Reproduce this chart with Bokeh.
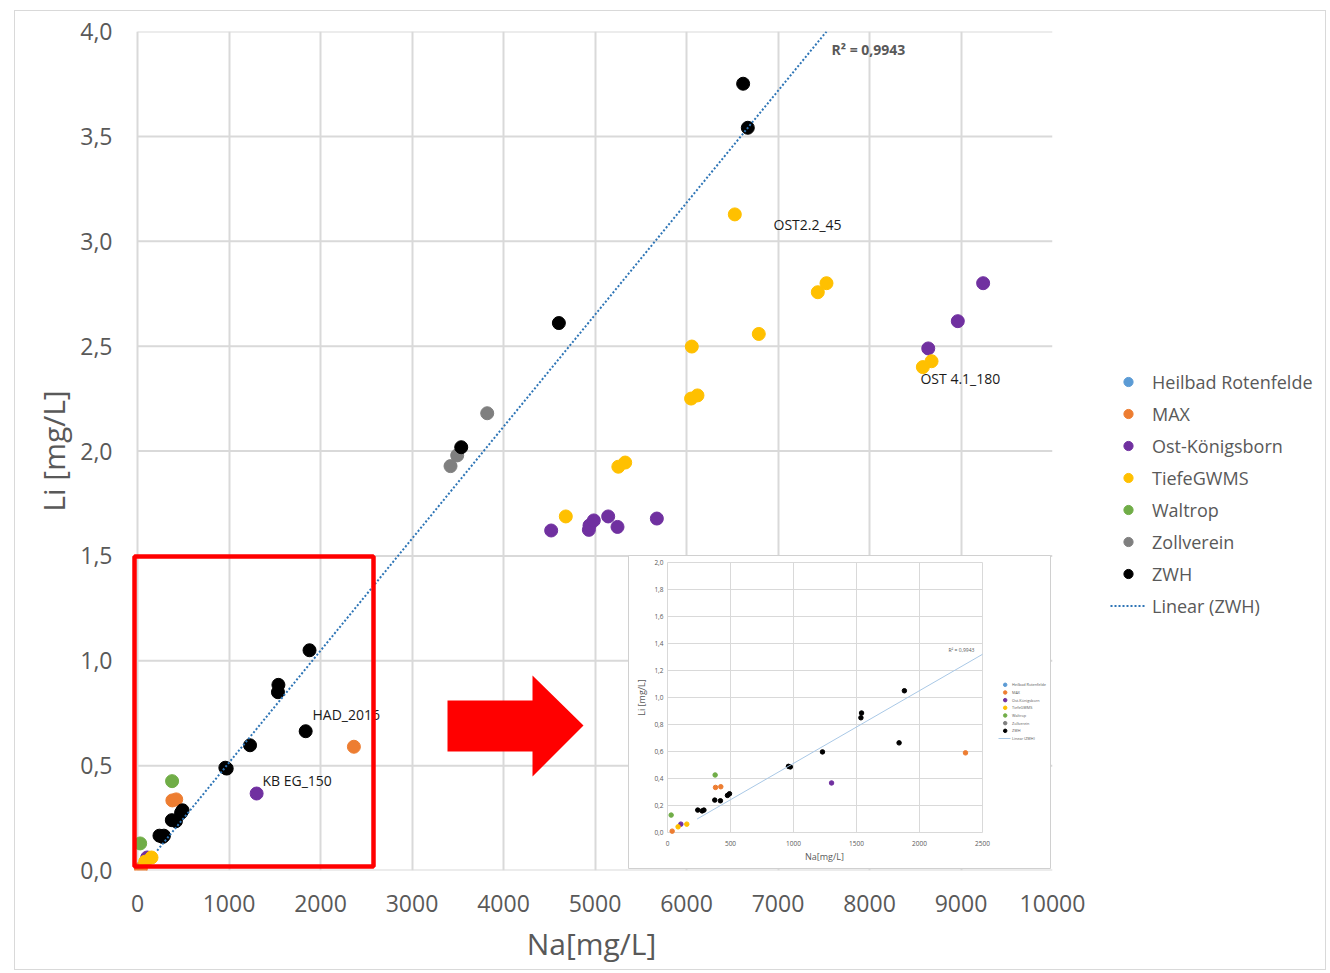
import numpy as np
from bokeh.plotting import figure
from bokeh.layouts import row
from bokeh.models import (Range1d, FixedTicker, CustomJSTickFormatter, Legend, LegendItem,
                          BoxAnnotation, PolyAnnotation, InlineStyleSheet)
from bokeh.core.properties import value
from bokeh.embed import file_html
from bokeh.resources import INLINE

FONT = "Open Sans"
GRAY = "#595959"
GRID = "#d9d9d9"

# ---------------- data ----------------
series_names = ["Heilbad Rotenfelde", "MAX", "Ost-Königsborn", "TiefeGWMS",
                "Waltrop", "Zollverein", "ZWH"]
series_colors = ["#5b9bd5", "#ed7d31", "#7030a0", "#ffc000", "#70ad47", "#7f7f7f", "#000000"]

heilbad_na = []
heilbad_li = []
max_na = [37, 381, 423, 2365]
max_li = [0.01, 0.334, 0.339, 0.59]
ost_na = [106, 1302, 4521, 4933, 4940, 4987, 5144, 5246, 5676, 8642, 8965, 9242]
ost_li = [0.062, 0.367, 1.621, 1.624, 1.645, 1.669, 1.688, 1.638, 1.678, 2.489, 2.619, 2.80]
tiefe_na = [84, 153, 4681, 5255, 5330, 6058, 6050, 6120, 6528, 6790, 7435, 7530, 8583, 8678]
tiefe_li = [0.042, 0.062, 1.688, 1.925, 1.945, 2.498, 2.25, 2.265, 3.128, 2.558, 2.757, 2.80, 2.40, 2.428]
waltrop_na = [29, 378]
waltrop_li = [0.129, 0.426]
zoll_na = [3421, 3494, 3822]
zoll_li = [1.928, 1.979, 2.18]
zwh_na = [240, 275, 289, 375, 420, 476, 492, 960, 975, 1230, 1535, 1540, 1838, 1880,
          3538, 4605, 6619, 6670]
zwh_li = [0.166, 0.16, 0.166, 0.24, 0.235, 0.275, 0.287, 0.49, 0.486, 0.597, 0.85, 0.885,
          0.664, 1.05, 2.018, 2.61, 3.751, 3.541]

series_na = [heilbad_na, max_na, ost_na, tiefe_na, waltrop_na, zoll_na, zwh_na]
series_li = [heilbad_li, max_li, ost_li, tiefe_li, waltrop_li, zoll_li, zwh_li]

trend_name = "Linear (ZWH)"
trend_na = [215, 7530]
trend_li = [0.095, 4.0]
r2_text = "R² = 0,9943"

x_ticks = [0, 1000, 2000, 3000, 4000, 5000, 6000, 7000, 8000, 9000, 10000]
y_ticks = [0.0, 0.5, 1.0, 1.5, 2.0, 2.5, 3.0, 3.5, 4.0]

ann_labels = ["OST2.2_45", "OST 4.1_180", "HAD_2016", "KB EG_150"]
ann_na = [6951, 8557, 1913, 1366]
ann_li = [3.080, 2.346, 0.744, 0.429]

# inset (zoomed copy of the low range)
inset_x_ticks = [0, 500, 1000, 1500, 2000, 2500]
inset_y_ticks = [0.0, 0.2, 0.4, 0.6, 0.8, 1.0, 1.2, 1.4, 1.6, 1.8, 2.0]
inset_trend_na = [235, 2500]
inset_trend_li = [0.10, 1.32]
inset_xmax, inset_ymax = 2500, 2.0

# ---------------- main figure ----------------
W, H = 1330, 973
MAIN_W = 1100
PX_PER_NA = 915.0 / 10000
FRAME_LEFT = 130                       # a few px left of Na=0 (at 137 px)
x_start = -(137 - FRAME_LEFT) / PX_PER_NA

p = figure(width=MAIN_W, height=H, x_range=Range1d(x_start, 10000), y_range=Range1d(0, 4),
           output_backend="svg", toolbar_location=None,
           min_border_left=FRAME_LEFT, min_border_right=MAIN_W - 1052, min_border_top=31,
           min_border_bottom=H - 870)
p.outline_line_color = None
p.background_fill_color = "white"
p.border_fill_color = "white"

p.xaxis.ticker = FixedTicker(ticks=x_ticks)
p.yaxis.ticker = FixedTicker(ticks=y_ticks)
p.xaxis.formatter = CustomJSTickFormatter(code="return tick.toFixed(0)")
p.yaxis.formatter = CustomJSTickFormatter(code="return tick.toFixed(1).replace('.', ',')")
for ax in (p.xaxis[0], p.yaxis[0]):
    ax.axis_line_color = None
    ax.major_tick_line_color = None
    ax.minor_tick_line_color = None
    ax.major_label_text_font = FONT
    ax.major_label_text_font_size = "23px"
    ax.major_label_text_color = GRAY
    ax.axis_label_text_font = FONT
    ax.axis_label_text_font_size = "30px"
    ax.axis_label_text_font_style = "normal"
    ax.axis_label_text_color = GRAY
p.xaxis.axis_label = "Na[mg/L]"
p.yaxis.axis_label = "Li [mg/L]"
p.xaxis.major_label_standoff = 18
p.yaxis.major_label_standoff = 12
p.xaxis.axis_label_standoff = 8
p.yaxis.axis_label_standoff = 3

p.xgrid.ticker = FixedTicker(ticks=x_ticks)
p.xgrid.grid_line_color = GRID
p.xgrid.grid_line_width = 2
p.ygrid.visible = False
# horizontal gridlines spanning Na 0..10000
p.segment(x0=[x_ticks[0]] * len(y_ticks), y0=y_ticks, x1=[x_ticks[-1]] * len(y_ticks),
          y1=y_ticks, line_color=GRID, line_width=2)

# main scatter series
for na, li, c in zip(series_na, series_li, series_colors):
    p.scatter(na, li, size=13, fill_color=c, line_color=c)

p.line(trend_na, trend_li, line_color="#2e75b6", line_width=2, line_dash="2 2")

p.text(x=[7585], y=[3.914], text=[r2_text], text_font=value(FONT), text_font_style="bold",
       text_font_size=value("14px"), text_color=GRAY, text_baseline="middle")

p.text(x=ann_na, y=ann_li, text=ann_labels, text_font=value(FONT),
       text_font_size=value("14px"), text_color="#1a1a1a", text_baseline="middle")

# ---------------- inset ----------------
FL, FR, FT, FB = float(FRAME_LEFT), 1052.0, 31.0, 870.0
IX0, IXS = 667.0, 315.0 / 2500   # px of Na=0, px per unit
IY0, IYS = 832.0, 270.0 / 2.0    # px of Li=0, px per unit
p.extra_x_ranges = {"ix": Range1d(-(IX0 - FL) / IXS, (FR - IX0) / IXS)}
p.extra_y_ranges = {"iy": Range1d(-(FB - IY0) / IYS, (IY0 - FT) / IYS)}


def ix(px):
    return (px - IX0) / IXS


def iy(py):
    return (IY0 - py) / IYS


kw = dict(x_range_name="ix", y_range_name="iy")
p.quad(left=[ix(628)], right=[ix(1050)], bottom=[iy(868)], top=[iy(555)],
       fill_color="white", line_color="#d0d0d0", line_width=1, **kw)
p.segment(x0=inset_x_ticks, y0=[0] * len(inset_x_ticks), x1=inset_x_ticks,
          y1=[inset_ymax] * len(inset_x_ticks), line_color=GRID, line_width=1, **kw)
p.segment(x0=[0] * len(inset_y_ticks), y0=inset_y_ticks, x1=[inset_xmax] * len(inset_y_ticks),
          y1=inset_y_ticks, line_color=GRID, line_width=1, **kw)
p.text(x=inset_x_ticks, y=[0] * len(inset_x_ticks), text=[str(t) for t in inset_x_ticks],
       y_offset=11, text_align="center", text_baseline="middle", text_font=value(FONT),
       text_font_size=value("6.5px"), text_color=GRAY, **kw)
p.text(x=[0] * len(inset_y_ticks), y=inset_y_ticks,
       text=[f"{t:.1f}".replace(".", ",") for t in inset_y_ticks],
       x_offset=-4, text_align="right", text_baseline="middle", text_font=value(FONT),
       text_font_size=value("6.5px"), text_color=GRAY, **kw)
p.text(x=[ix(641)], y=[iy(697)], text=["Li [mg/L]"], angle=np.pi / 2, text_align="center",
       text_baseline="middle", text_font=value(FONT), text_font_size=value("9px"),
       text_color=GRAY, **kw)
p.text(x=[ix(824)], y=[iy(856)], text=["Na[mg/L]"], text_align="center",
       text_baseline="middle", text_font=value(FONT), text_font_size=value("9px"),
       text_color=GRAY, **kw)

for na, li, c in zip(series_na, series_li, series_colors):
    pts = [(a, b) for a, b in zip(na, li) if a <= inset_xmax and b <= inset_ymax]
    if pts:
        p.scatter([a for a, _ in pts], [b for _, b in pts], size=4.5, fill_color=c,
                  line_color=c, **kw)
p.line(inset_trend_na, inset_trend_li, line_color="#a9c8e6", line_width=1, **kw)
p.text(x=[ix(948)], y=[iy(649)], text=[r2_text], text_font=value(FONT),
       text_font_size=value("5px"), text_color=GRAY, text_baseline="middle", **kw)

# inset legend
leg_y = [iy(684.3 + i * 7.67) for i in range(len(series_names) + 1)]
p.scatter([ix(1004.7)] * len(series_names), leg_y[:-1], size=3.5, fill_color=series_colors,
          line_color=series_colors, **kw)
p.segment(x0=[ix(998)], y0=[leg_y[-1]], x1=[ix(1010)], y1=[leg_y[-1]], line_color="#a9c8e6",
          line_width=1, **kw)
p.text(x=[ix(1011.5)] * len(leg_y), y=leg_y, text=series_names + [trend_name],
       text_font=value(FONT), text_font_size=value("3.8px"), text_color=GRAY,
       text_baseline="middle", **kw)

# ---------------- decorations ----------------
p.add_layout(BoxAnnotation(left=134, right=373, top=556, bottom=866,
                           left_units="canvas", right_units="canvas",
                           top_units="canvas", bottom_units="canvas",
                           fill_alpha=0, line_color="#ff0000", line_alpha=1, line_width=4.5))
p.add_layout(PolyAnnotation(xs=[447, 532, 532, 583, 532, 532, 447],
                            ys=[700, 700, 675, 725, 776, 751, 751],
                            xs_units="canvas", ys_units="canvas",
                            fill_color="#ff0000", fill_alpha=1, line_color=None))

# ---------------- legend panel (right) ----------------
LW = W - MAIN_W
q = figure(width=LW, height=H, x_range=Range1d(0, 1), y_range=Range1d(0, 1),
           output_backend="svg", toolbar_location=None, min_border=0,
           x_axis_location=None, y_axis_location=None)
q.outline_line_color = None
q.xgrid.visible = False
q.ygrid.visible = False
q.background_fill_color = "white"
q.border_fill_color = "white"

items = []
for name, c in zip(series_names, series_colors):
    r = q.scatter([np.nan], [np.nan], size=13, fill_color=c, line_color=c)
    items.append(LegendItem(label=name, renderers=[r]))
rt = q.line([np.nan, np.nan], [np.nan, np.nan], line_color="#2e75b6", line_width=2,
            line_dash="2 2")
items.append(LegendItem(label=trend_name, renderers=[rt]))

legend = Legend(items=items, location=(1110 - MAIN_W, 252.5), padding=0, margin=0,
                spacing=8, glyph_width=36, glyph_height=23, label_height=23, label_standoff=6,
                label_text_font=FONT, label_text_font_size="18px", label_text_color=GRAY,
                border_line_color=None, background_fill_alpha=0)
q.add_layout(legend, "center")

layout = row(p, q, spacing=0)
layout.stylesheets = [InlineStyleSheet(css=(
    ":host { position: relative; }"
    ":host::after { content: ''; position: absolute; left: 14px; top: 10px; width: 1312px;"
    " height: 960px; border: 1px solid #d9d9d9; box-sizing: border-box;"
    " pointer-events: none; z-index: 5; }"))]

open("out.html", "w").write(file_html(layout, INLINE))
